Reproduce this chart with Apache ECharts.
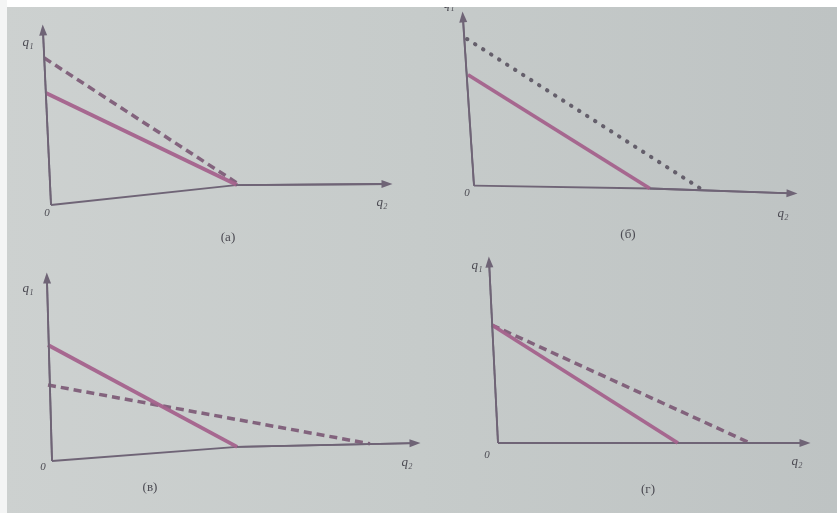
<!DOCTYPE html>
<html>
<head>
<meta charset="utf-8">
<script src="https://cdn.jsdelivr.net/npm/echarts@6/dist/echarts.min.js"></script>
<style>html,body{margin:0;padding:0;background:#c8cccb;}#c{width:837px;height:513px;}</style>
</head>
<body>
<div id="c"></div>
<script>
// ---------- data (abstract units: q2 on x, q1 on y) ----------
const captions = ['(а)', '(б)', '(в)', '(г)'];
const yLabel = 'q₁';
const xLabel = 'q₂';
const originLabel = '0';

// panel (а)
const axisXA = [[0, 0], [5.5, 1.14], [10, 1.2]];
const axisYA = [[0, 0], [-0.24, 10]];
const solidA = [[-0.15, 6.4], [5.54, 1.14]];
const dashedA = [[-0.2, 8.4], [5.63, 1.14]];
// panel (б)
const axisXB = [[0, 0], [5.53, -0.17], [10, -0.46]];
const axisYB = [[0, 0], [-0.35, 10]];
const solidB = [[-0.19, 6.57], [5.53, -0.17]];
const dottedB = [[-0.22, 8.69], [7.17, -0.23]];
// panel (в)
const axisXV = [[0, 0], [5.1, 0.77], [10, 0.98]];
const axisYV = [[0, 0], [-0.14, 10]];
const solidV = [[-0.11, 6.34], [5.1, 0.77]];
const dashedV = [[-0.11, 4.15], [8.76, 0.94]];
// panel (г)
const axisXG = [[0, 0], [5.86, 0], [10, 0]];
const axisYG = [[0, 0], [-0.29, 10]];
const solidG = [[-0.2, 6.52], [5.86, 0]];
const dashedG = [[-0.2, 6.52], [8.21, 0]];

// ---------- layout ----------
const frames = [
  {ox: 51, oy: 205, tx: 387, ty: 30},
  {ox: 474, oy: 185, tx: 792, ty: 10},
  {ox: 52, oy: 461, tx: 415, ty: 278},
  {ox: 498, oy: 443, tx: 805, ty: 262}
];
const labelPos = [
  {q1: [28, 43], o: [47, 213], q2: [382, 203], cap: [228, 238]},
  {q1: [449, 5], o: [467, 193], q2: [783, 214], cap: [628, 235]},
  {q1: [28, 289], o: [43, 467], q2: [407, 463], cap: [150, 488]},
  {q1: [477, 266], o: [487, 455], q2: [797, 462], cap: [648, 490]}
];
const panelData = [
  {ax: axisXA, ay: axisYA, solid: solidA, other: dashedA, otherType: 'dashed'},
  {ax: axisXB, ay: axisYB, solid: solidB, other: dottedB, otherType: 'dotted'},
  {ax: axisXV, ay: axisYV, solid: solidV, other: dashedV, otherType: 'dashed'},
  {ax: axisXG, ay: axisYG, solid: solidG, other: dashedG, otherType: 'dashed'}
];

const AXIS_COLOR = '#6f6476';
const ARROW_COLOR = '#9a6e96';
const SOLID_COLOR = '#a4628c';
const DASH_COLOR = '#7e5d78';
const DOT_COLOR = '#5a5361';
const TEXT_COLOR = '#4b4a52';

const grids = [], xAxes = [], yAxes = [], series = [], texts = [];

frames.forEach((f, i) => {
  const ux = (f.tx - f.ox) / 10, uy = (f.oy - f.ty) / 10;
  grids.push({left: f.ox - ux, top: f.ty - uy, width: 12 * ux, height: 12 * uy, containLabel: false});
  xAxes.push({type: 'value', gridIndex: i, min: -1, max: 11, show: false});
  yAxes.push({type: 'value', gridIndex: i, min: -1, max: 11, show: false});
  const p = panelData[i];
  const axisSeries = (pts) => ({
    type: 'line', xAxisIndex: i, yAxisIndex: i, data: pts, symbol: 'none', silent: true,
    lineStyle: {color: AXIS_COLOR, width: 1.8}, z: 2, clip: false,
    markLine: {
      silent: true, symbol: ['none', 'triangle'], symbolSize: [8, 11], animation: false,
      label: {show: false},
      lineStyle: {color: AXIS_COLOR, width: 1.8, type: 'solid'},
      itemStyle: {color: ARROW_COLOR},
      data: [[{coord: pts[pts.length - 2]}, {coord: pts[pts.length - 1]}]]
    }
  });
  series.push(axisSeries(p.ax));
  series.push(axisSeries(p.ay));
  if (p.otherType === 'dotted') {
    series.push({
      type: 'line', xAxisIndex: i, yAxisIndex: i, data: p.other, symbol: 'none', silent: true, clip: false, z: 3,
      lineStyle: {color: DOT_COLOR, width: 4, type: [0.5, 9], cap: 'round', opacity: 0.9}
    });
  } else {
    series.push({
      type: 'line', xAxisIndex: i, yAxisIndex: i, data: p.other, symbol: 'none', silent: true, clip: false, z: 3,
      lineStyle: {color: DASH_COLOR, width: 3.5, type: [8, 5], opacity: 0.95}
    });
  }
  series.push({
    type: 'line', xAxisIndex: i, yAxisIndex: i, data: p.solid, symbol: 'none', silent: true, clip: false, z: 4,
    lineStyle: {color: SOLID_COLOR, width: 3.8, opacity: 0.95}
  });
  const lp = labelPos[i];
  const mk = (pos, str, size) => ({
    type: 'text', x: pos[0], y: pos[1], silent: true,
    style: {text: str, fill: TEXT_COLOR, font: 'italic ' + size + 'px "Liberation Serif", serif', align: 'center', verticalAlign: 'middle'}
  });
  texts.push(mk(lp.q1, yLabel, 13));
  texts.push(mk(lp.q2, xLabel, 13));
  texts.push(mk(lp.o, originLabel, 11));
  texts.push({
    type: 'text', x: lp.cap[0], y: lp.cap[1], silent: true,
    style: {text: captions[i], fill: TEXT_COLOR, font: '13px "Liberation Serif", serif', align: 'center', verticalAlign: 'middle'}
  });
});

// white paper margins at the top and left of the photo
texts.push({type: 'rect', shape: {x: 0, y: 0, width: 837, height: 7}, style: {fill: '#ffffff'}, silent: true, z: 10});
texts.push({type: 'rect', shape: {x: 0, y: 0, width: 7, height: 513}, style: {fill: '#f4f5f5'}, silent: true, z: 10});

const chart = echarts.init(document.getElementById('c'), null, {renderer: 'canvas'});
chart.setOption({
  animation: false,
  backgroundColor: {
    type: 'linear', x: 0, y: 0, x2: 1, y2: 0,
    colorStops: [{offset: 0, color: '#cdd1d0'}, {offset: 0.5, color: '#c6cbca'}, {offset: 1, color: '#bec3c3'}]
  },
  grid: grids,
  xAxis: xAxes,
  yAxis: yAxes,
  series: series,
  graphic: {elements: texts}
});
</script>
</body>
</html>
